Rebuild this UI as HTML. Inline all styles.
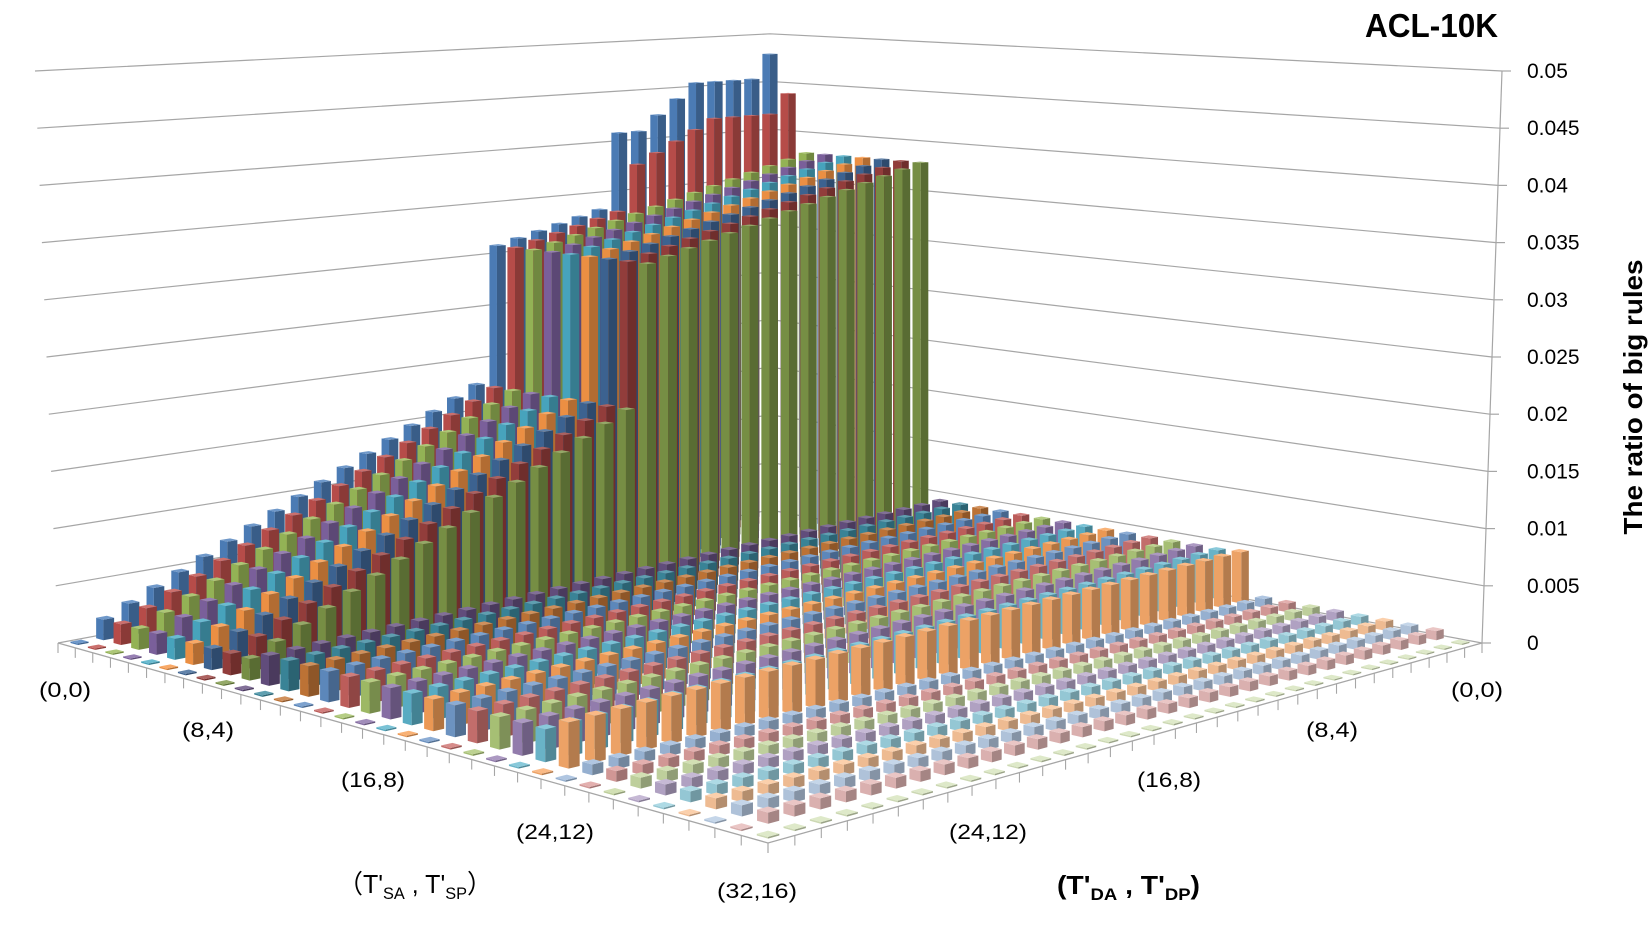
<!DOCTYPE html>
<html><head><meta charset="utf-8">
<style>
html,body{margin:0;padding:0;background:#fff;}
svg{display:block;font-family:"Liberation Sans","Noto Sans CJK SC",sans-serif;}
</style></head>
<body>
<svg id="s" xmlns="http://www.w3.org/2000/svg" width="1648" height="928" viewBox="0 0 1648 928">
<rect width="1648" height="928" fill="#fff"/>
<g id="grid"></g>
<g id="bars"></g>
<g id="txt" fill="#000">
<text x="1365" y="37" font-size="33" font-weight="bold" textLength="133" lengthAdjust="spacingAndGlyphs">ACL-10K</text>
<text transform="translate(1642,397) rotate(-90)" text-anchor="middle" font-size="26" font-weight="bold" textLength="275" lengthAdjust="spacingAndGlyphs">The ratio of big rules</text>
<text x="338" y="893" font-size="26" textLength="154" lengthAdjust="spacingAndGlyphs">（T'<tspan font-size="17" dy="6">SA</tspan><tspan dy="-6"> , T'</tspan><tspan font-size="17" dy="6">SP</tspan><tspan dy="-6">）</tspan></text>
<text x="1057" y="894" font-size="26" font-weight="bold" textLength="143" lengthAdjust="spacingAndGlyphs">(T'<tspan font-size="17" dy="6">DA</tspan><tspan dy="-6"> , T'</tspan><tspan font-size="17" dy="6">DP</tspan><tspan dy="-6">)</tspan></text>
</g>
</svg>
<script>
(function(){
const NS="http://www.w3.org/2000/svg";
const grid=document.getElementById('grid'),bars=document.getElementById('bars'),txt=document.getElementById('txt');
function el(tag,attrs,parent){const e=document.createElementNS(NS,tag);for(const k in attrs)e.setAttribute(k,attrs[k]);(parent||bars).appendChild(e);return e;}
const P=[[770,510],[1482,643],[768,843],[58,643]];
const x0=P[0][0],y0=P[0][1],x1=P[1][0],y1=P[1][1],x2=P[2][0],y2=P[2][1],x3=P[3][0],y3=P[3][1];
const dx1=x1-x2,dx2=x3-x2,dx3=x0-x1+x2-x3,dy1=y1-y2,dy2=y3-y2,dy3=y0-y1+y2-y3;
const den=dx1*dy2-dy1*dx2;
const g=(dx3*dy2-dy3*dx2)/den, hh=(dx1*dy3-dy1*dx3)/den;
const a=x1-x0+g*x1,b=x3-x0+hh*x3,c=x0,d=y1-y0+g*y1,e=y3-y0+hh*y3,f=y0;
const SB=11440*(1+(g+hh)/2);
function proj(u,v,z){const w=g*u+hh*v+1;return [(a*u+b*v+c)/w,(d*u+e*v+f)/w-z*SB/w];}
for(let k=0;k<=10;k++){
  const z=0.005*k;
  const lx=58-23*k/10, ly=643-57.2*k;
  const rx=1482+20*k/10, ry=643-57.2*k;
  const bk=proj(0,0,z);
  el('polyline',{points:`${lx},${ly} ${bk[0]},${bk[1]} ${rx},${ry}`,fill:'none',stroke:'#a6a6a6','stroke-width':1.2},grid);
  el('line',{x1:rx,y1:ry,x2:rx+9,y2:ry,stroke:'#a6a6a6','stroke-width':1.2},grid);
  const lab=(k==0?'0':(0.005*k).toFixed(3).replace(/0+$/,''));
  const t=el('text',{x:1527,y:ry+7,'font-size':21},txt);t.textContent=lab;
}
el('line',{x1:1482,y1:643,x2:1502,y2:71,stroke:'#a6a6a6','stroke-width':1.2},grid);
el('polyline',{points:`58,643 768,843 1482,643`,fill:'none',stroke:'#a6a6a6','stroke-width':1.3},grid);
for(let k=0;k<=33;k++){
  let p=proj(k/33,1,0);el('line',{x1:p[0],y1:p[1],x2:p[0],y2:p[1]+10,stroke:'#a6a6a6','stroke-width':1.1},grid);
  p=proj(1,k/33,0);el('line',{x1:p[0],y1:p[1],x2:p[0],y2:p[1]+10,stroke:'#a6a6a6','stroke-width':1.1},grid);
}
const labs=[['(0,0)',65,690,52],['(8,4)',208,730,52],['(16,8)',373,780,64],['(24,12)',555,832,78],['(32,16)',757,891,80],
['(0,0)',1477,690,52],['(8,4)',1332,730,52],['(16,8)',1169,780,64],['(24,12)',988,832,78]];
labs.forEach(l=>{const t=el('text',{x:l[1],y:l[2]+7,'font-size':21,'text-anchor':'middle',textLength:l[3],lengthAdjust:'spacingAndGlyphs'},txt);t.textContent=l[0];});
const N=33;
const b0=[0.048,0.0455,0.0455,0.0455,0.0455,0.044,0.0425,0.041,0.041];
const b1=[0.044,0.042,0.042,0.042,0.042,0.041,0.040,0.039,0.038];
function val(i,j){
  if(j>=32||i>=32) return 0.00012;
  if(i<=8){
    if(j<=14){
      if(i==0&&j<=8) return b0[j];
      if(i==1&&j<=8) return b1[j];
      return 0.031+(14-j)/14*0.007;
    }
    return 0.0018+(31-j)*0.001;
  }
  if(i<=22) return 0.0025+0.002*(31-j)/31;
  if(i==23) return 0.0035+0.0012*(31-j)/31;
  return 0.0008;
}
const base=[[79,129,189],[192,80,77],[155,187,89],[128,100,162],[75,172,198],[247,150,70]];
function col(i){
  const bc=base[i%6],gp=Math.floor(i/6);
  let m=[0,0,0.1,0.2,0.45,0.6][gp];
  let dk=gp==1?0.8:1;
  return bc.map(x=>x*dk*(1-m)+255*m);
}
function rgb(cc,s,wm){wm=wm||0;return 'rgb('+cc.map(x=>Math.max(0,Math.min(255,Math.round(x*s*(1-wm)+255*wm)))).join(',')+')';}
const order=[];
for(let i=0;i<N;i++)for(let j=0;j<N;j++)order.push([i,j]);
order.sort((p,q)=>(p[0]+p[1])-(q[0]+q[1]));
const hw=0.21/N;
order.forEach(([i,j])=>{
  const u=(i+0.5)/N,v=(j+0.5)/N,z=val(i,j),cc=col(i);
  const A=[u-hw,v-hw],Bp=[u+hw,v-hw],C=[u+hw,v+hw],D=[u-hw,v+hw];
  const pt=(q,zz)=>proj(q[0],q[1],zz).join(',');
  el('polygon',{points:[pt(D,0),pt(C,0),pt(C,z),pt(D,z)].join(' '),fill:rgb(cc,0.95)});
  el('polygon',{points:[pt(C,0),pt(Bp,0),pt(Bp,z),pt(C,z)].join(' '),fill:rgb(cc,0.72)});
  el('polygon',{points:[pt(A,z),pt(Bp,z),pt(C,z),pt(D,z)].join(' '),fill:rgb(cc,1,0.18)});
});
})();
</script>
</body></html>
